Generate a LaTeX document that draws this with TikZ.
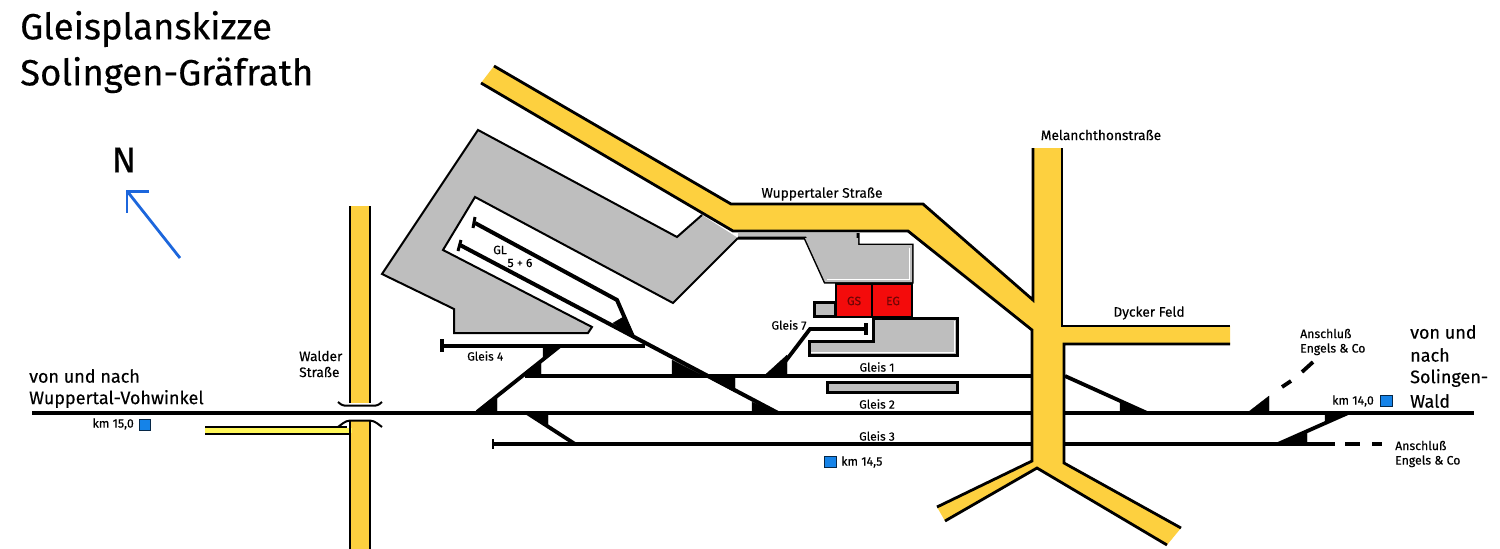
\documentclass[tikz,border=0pt]{standalone}
\usepackage{fontspec}
\setmainfont{Fira Sans}[FakeBold=0.3]
\definecolor{roadyel}{HTML}{FDD03F}
\definecolor{palegray}{HTML}{BEBEBE}
\definecolor{stnred}{HTML}{F40B0B}
\definecolor{kmblue}{HTML}{1583E8}
\definecolor{arrblue}{HTML}{1C66DC}
\tikzset{
 edge/.style={draw=black,line width=2.8pt,line join=miter},
 track/.style={draw=black,line width=3.8pt},
 wedge/.style={fill=black,draw=black,line width=.3pt},
 outline/.style={draw=black,line width=3pt,line join=miter},
 kmbox/.style={draw=black!70!kmblue,fill=kmblue,line width=.8pt},
 lab/.style={inner sep=0pt,font=\fontsize{12}{15}\selectfont},
 smalllab/.style={inner sep=0pt,font=\fontsize{12.3}{14.5}\selectfont},
 streetlab/.style={inner sep=0pt,font=\fontsize{13.7}{16}\selectfont},
 big/.style={inner sep=0pt,anchor=west,font=\fontsize{18}{23}\selectfont},
 ttl/.style={inner sep=0pt,anchor=west,font=\fontsize{36.5}{36}\selectfont},
}
\begin{document}
\begin{tikzpicture}[x=1pt,y=-1pt]
\useasboundingbox (0,0) rectangle (1500,549);
% gray goods area
\fill[palegray] (478,130) -- (677,237) -- (702,215) -- (738,238) -- (673,303) -- (475,197) -- (443,250) -- (592,327) -- (588,333) -- (454,333) -- (454,309) -- (382,274) -- cycle;
\draw[line width=2pt,line join=miter,draw=black] (702,215) -- (677,237) -- (478,130) -- (382,274) -- (454,309) -- (454,333) -- (588,333) -- (592,327) -- (443,250) -- (475,197) -- (673,303) -- (738,238);
% station gray blocks
\fill[palegray] (738,238) -- (805,238) -- (825,282) -- (912,282) -- (912,245) -- (858,245) -- (858,233) -- (738,233) -- cycle;
\draw[outline] (738,238) -- (805,238) -- (825,282) -- (912,282) -- (912,245) -- (858,245) -- (858,233);
\fill[palegray] (805,238) -- (858,238) -- (858,245) -- (912,245) -- (912,282) -- (825,282) -- cycle;
\draw[white,line width=1pt] (827,279.5) -- (909.5,279.5) -- (909.5,247.5);
\draw[outline,fill=palegray] (814,302) rectangle (835,316);
\draw[outline,fill=palegray] (873,318) -- (957,318) -- (957,355) -- (809,355) -- (809,341) -- (873,341) -- cycle;
\draw[white,line width=1pt] (811,352.5) -- (954.5,352.5) -- (954.5,320.5);
\draw[outline,fill=palegray] (827,382.5) rectangle (957,392.5);
% red buildings
\draw[line width=2pt,fill=stnred] (836,284) rectangle (872,317);
\draw[line width=2pt,fill=stnred] (872,284) rectangle (912,317);
\node[lab,text=black!55!stnred] (gs) at (854,301) {GS};
\node[lab,text=black!55!stnred] (eg) at (893,301) {EG};
% tracks
\draw[track] (32,413) -- (1474,413);
\draw[track] (525,376) -- (1032,376);
\draw[track] (493,444) -- (1335,444);
\draw[line width=2pt] (493,439) -- (493,449);
\draw[track] (1345,444) -- (1360,444) (1372,444) -- (1382,444);
\draw[track] (441,346) -- (645,346);
\draw[line width=3.4pt] (442,339) -- (442,352);
% track 5+6
\draw[line width=4pt] (460,245) -- (778,413);
\draw[line width=4pt,line join=miter] (475,223) -- (617,300) -- (633,337);
\draw[line width=3pt] (475,217) -- (473,228);
\draw[line width=3pt] (461,240) -- (458,251);
% diagonal crossovers
\draw[line width=3.8pt] (477,412) -- (560,346);
\draw[line width=3.8pt] (527,413) -- (575,444);
\draw[line width=3.8pt,line join=miter] (775,375) -- (810,329) -- (865,329);
\draw[line width=3.4pt] (866,323) -- (866,335);
\draw[line width=3.8pt] (1065,376) -- (1147,413);
\draw[line width=3.8pt] (1278,444) -- (1348,413);
% wedges
\fill[wedge] (613,323) -- (625,316) -- (636,339) -- cycle;
\fill[wedge] (672,360) -- (672,375) -- (702,375) -- cycle;
\fill[wedge] (735,376) -- (735,392) -- (705,376) -- cycle;
\fill[wedge] (752,402) -- (752,412) -- (777,412) -- cycle;
\fill[wedge] (477,412) -- (497,412) -- (497,396) -- cycle;
\fill[wedge] (523,376) -- (541,376) -- (541,363) -- cycle;
\fill[wedge] (543,347) -- (560,347) -- (543,360) -- cycle;
\fill[wedge] (527,413) -- (548,413) -- (548,427) -- cycle;
\fill[wedge] (765,375) -- (787,375) -- (787,355) -- cycle;
\fill[wedge] (1120,402) -- (1120,413) -- (1147,413) -- cycle;
\fill[wedge] (1247,413) -- (1269,413) -- (1269,396) -- cycle;
\fill[wedge] (1278,445) -- (1307,445) -- (1307,433) -- cycle;
\fill[wedge] (1325,414) -- (1348,414) -- (1325,423) -- cycle;
\draw[line width=3.8pt] (1282,387) -- (1291,381) (1302,372) -- (1313,362);
% Wuppertaler / Melanchthon / Dycker road
\fill[roadyel] (494,66) -- (731,204) -- (923,204) -- (1033,300) -- (1033,148) -- (1062,148) -- (1062,326) -- (1230,326) -- (1230,344) -- (1064,344) -- (1064,463) -- (1181,528) -- (1167,545) -- (1037,468) -- (945,521) -- (937,507) -- (1032,461) -- (1032,330) -- (908,231) -- (733,231) -- (481,83) -- cycle;
\draw[edge] (494,66) -- (731,204) -- (923,204) -- (1033,300) -- (1033,148);
\draw[edge] (1062,148) -- (1062,326) -- (1230,326);
\draw[edge] (1230,344) -- (1064,344) -- (1064,463) -- (1181,528);
\draw[edge] (1167,545) -- (1037,468) -- (945,521);
\draw[edge] (937,507) -- (1032,461) -- (1032,330) -- (908,231) -- (733,231) -- (481,83);
% Walder Strasse
\fill[roadyel] (350,206) rectangle (370,403);
\fill[roadyel] (350,421) rectangle (370,549);
\fill[yellow!65!white] (205,428) rectangle (352,433);
\draw[edge] (350,206) -- (350,403);
\draw[edge] (370,206) -- (370,403);
\draw[edge] (350,421) -- (350,549);
\draw[edge] (370,421) -- (370,549);
\draw[edge] (205,427) -- (347,427);
\draw[edge] (205,434) -- (350,434);
\draw[line width=2pt] (338,402) .. controls (342,406) and (345,406) .. (350,405.5) -- (370,405.5) .. controls (375,406) and (378,406) .. (382,402);
\draw[line width=2pt] (338,427) .. controls (342,424) and (345,421) .. (350,420.5) -- (370,420.5) .. controls (375,421) and (378,424) .. (382,427);
% km markers
\draw[kmbox] (139,419.5) rectangle (150,430.5);
\draw[kmbox] (824,456) rectangle (836,467);
\draw[kmbox] (1380,395) rectangle (1392,406);
% north arrow
\draw[arrblue,line width=2.8pt] (180,258) -- (127,191);
\draw[arrblue,line width=2.8pt,line join=miter] (149,191.5) -- (127,191.5) -- (127,213);
% labels
\node[ttl] (t1) at (20,29) {Gleisplanskizze};
\node[ttl] (t2) at (20,75) {Solingen-Gräfrath};
\node[inner sep=0pt,font=\fontsize{36}{36}\selectfont] (north) at (124,160) {N};
\node[streetlab] (mel) at (1101,135) {Melanchthonstraße};
\node[streetlab] (wup) at (822,194) {Wuppertaler Straße};
\node[streetlab] (dyc) at (1149,313) {Dycker Feld};
\node[streetlab,align=left,anchor=west] (wal) at (299,364) {Walder\\Straße};
\node[big] (vw1) at (29,376) {von und nach};
\node[big] (vw2) at (29,399) {Wuppertal-Vohwinkel};
\node[big] (sw1) at (1410,332) {von und};
\node[big] (sw2) at (1410,355) {nach};
\node[big] (sw3) at (1410,378) {Solingen-};
\node[big] (sw4) at (1410,401) {Wald};
\node[lab,anchor=west] (gl4) at (467,356) {Gleis 4};
\node[lab] (gl7) at (789,325) {Gleis 7};
\node[lab] (gl1) at (877,367) {Gleis 1};
\node[lab] (gl2) at (877,404) {Gleis 2};
\node[lab] (gl3) at (877,436) {Gleis 3};
\node[lab] (gl) at (500,250) {GL};
\node[lab] (g56) at (520,263) {5 + 6};
\node[smalllab,anchor=west,align=left] (an1) at (1300,342) {Anschluß\\Engels \& Co};
\node[smalllab,anchor=west,align=left] (an2) at (1395,454) {Anschluß\\Engels \& Co};
\node[smalllab,anchor=east] (k15) at (134,424) {km 15,0};
\node[smalllab,anchor=west] (k145) at (841,462) {km 14,5};
\node[smalllab,anchor=east] (k14) at (1374,401) {km 14,0};
\end{tikzpicture}
\end{document}
